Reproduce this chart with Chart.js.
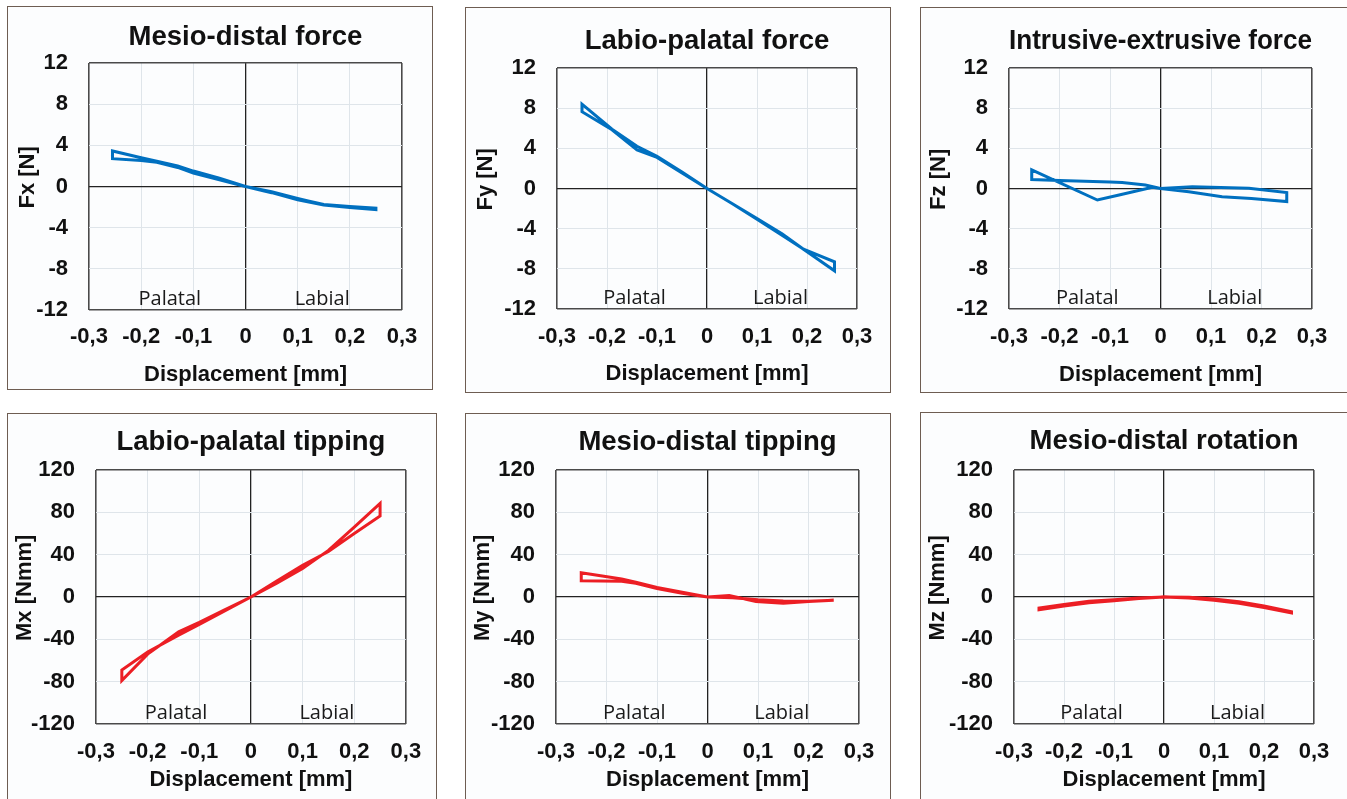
<!DOCTYPE html>
<html>
<head>
<meta charset="utf-8">
<title>Forces and moments vs displacement</title>
<script src="https://cdn.jsdelivr.net/npm/chart.js@4.4.1/dist/chart.umd.min.js"></script>
<style>
  html, body { margin: 0; padding: 0; background: #fff; }
  #page { position: relative; width: 1347px; height: 799px; overflow: hidden; background: #fff; }
  .panel { position: absolute; box-sizing: border-box; border: 1px solid #6e5d52; background: #fcfdfe; }
  .panel canvas { display: block; }
</style>
</head>
<body>
<div id="page"></div>
<script>
// loops: 0 -> labial -> 0 -> palatal -> 0
const fxDisp  = [0, 0.05, 0.1, 0.15, 0.2, 0.25, 0.25, 0.2, 0.15, 0.12, 0.1, 0.05, 0, -0.05, -0.1, -0.13, -0.17, -0.2, -0.255, -0.255, -0.2, -0.17, -0.13, -0.1, -0.05, 0];
const fxForce = [0, -0.6, -1.3, -1.8, -2.05, -2.25, -2.1, -1.95, -1.75, -1.4, -1.15, -0.5, 0, 0.65, 1.3, 1.85, 2.35, 2.52, 2.7, 3.45, 2.8, 2.45, 2.0, 1.5, 0.8, 0];

const fyDisp  = [0, 0.05, 0.1, 0.15, 0.193, 0.255, 0.255, 0.193, 0.15, 0.1, 0.05, 0, -0.05, -0.1, -0.14, -0.19, -0.25, -0.25, -0.19, -0.14, -0.1, -0.05, 0];
const fyForce = [0, -1.5, -3.0, -4.5, -6.05, -8.2, -7.3, -6.05, -4.65, -3.05, -1.5, 0, 1.55, 3.1, 3.85, 5.85, 7.65, 8.4, 5.9, 4.2, 3.2, 1.65, 0];

const fzDisp  = [0, 0.056, 0.122, 0.18, 0.25, 0.25, 0.175, 0.063, 0, -0.016, -0.082, -0.125, -0.255, -0.255, -0.2, -0.1, -0.076, -0.03, 0];
const fzForce = [0, -0.32, -0.81, -1.0, -1.3, -0.4, 0.02, 0.18, 0, 0.12, -0.65, -1.15, 1.85, 0.9, 0.8, 0.65, 0.6, 0.35, 0];

const mxDisp   = [0, 0.05, 0.1, 0.15, 0.2, 0.25, 0.25, 0.2, 0.15, 0.1, 0.05, 0, -0.05, -0.1, -0.14, -0.2, -0.25, -0.25, -0.2, -0.14, -0.1, -0.05, 0];
const mxMoment = [0, 13, 27, 44, 66, 88.5, 76.5, 60, 43, 30, 15, 0, -12, -24, -33, -54, -79, -69, -52, -36, -26, -13, 0];

const myDisp   = [0, 0.043, 0.096, 0.15, 0.2, 0.25, 0.25, 0.2, 0.15, 0.1, 0.05, 0, -0.05, -0.1, -0.142, -0.17, -0.25, -0.25, -0.17, -0.142, -0.1, -0.05, 0];
const myMoment = [0, 1.5, -4.2, -5.8, -4.2, -3.0, -3.0, -4.0, -3.8, -2.6, -0.8, 0, 3.5, 8, 13, 14.8, 15.4, 23, 17, 14, 9, 4.5, 0];

const mzDisp   = [0, 0.05, 0.1, 0.15, 0.2, 0.255, 0.255, 0.2, 0.15, 0.1, 0.05, 0, -0.05, -0.1, -0.15, -0.2, -0.25, -0.25, -0.2, -0.15, -0.1, -0.05, 0];
const mzMoment = [0, -1, -3, -6, -10, -15, -14, -8.5, -4.5, -2, -0.3, 0, -1.5, -3.5, -5.5, -8.5, -12, -10.5, -7, -4, -2.5, -1, 0];

const dispTicks   = [-0.3, -0.2, -0.1, 0, 0.1, 0.2, 0.3];
const forceTicks  = [-12, -8, -4, 0, 4, 8, 12];
const momentTicks = [-120, -80, -40, 0, 40, 80, 120];
const sideLabels  = ['Palatal', 'Labial'];

const BLUE = 'rgb(0,112,192)';
const RED = 'rgb(236,30,36)';
const FONT = '"Liberation Sans", Arial, sans-serif';
const AXIS_SIZE = 22;
const TITLE_SIZE = 27.5;

// box = panel frame, plot = wanted chart area (page pixels)
const panels = [
    { title: 'Mesio-distal force', yLabel: 'Fx [N]', xs: fxDisp, ys: fxForce, yTicks: forceTicks, color: BLUE,
      box: [7, 6, 426, 384], plot: [89, 63, 402, 310], titleY: 37.5, tickY: 337, xTitleY: 375, yTitleX: 28 },
    { title: 'Labio-palatal force', yLabel: 'Fy [N]', xs: fyDisp, ys: fyForce, yTicks: forceTicks, color: BLUE,
      box: [465, 7, 426, 386], plot: [557, 68, 857, 309], titleY: 41, tickY: 337, xTitleY: 374, yTitleX: 486 },
    { title: 'Intrusive-extrusive force', yLabel: 'Fz [N]', xs: fzDisp, ys: fzForce, yTicks: forceTicks, color: BLUE,
      box: [920, 7, 430, 386], plot: [1009, 68, 1312, 309], titleY: 41, tickY: 337, xTitleY: 375, yTitleX: 939 },
    { title: 'Labio-palatal tipping', yLabel: 'Mx [Nmm]', xs: mxDisp, ys: mxMoment, yTicks: momentTicks, color: RED,
      box: [7, 413, 430, 400], plot: [96, 470, 406, 724], titleY: 442, tickY: 752, xTitleY: 780, yTitleX: 25 },
    { title: 'Mesio-distal tipping', yLabel: 'My [Nmm]', xs: myDisp, ys: myMoment, yTicks: momentTicks, color: RED,
      box: [465, 413, 426, 400], plot: [556, 470, 859, 724], titleY: 442, tickY: 752, xTitleY: 780, yTitleX: 483 },
    { title: 'Mesio-distal rotation', yLabel: 'Mz [Nmm]', xs: mzDisp, ys: mzMoment, yTicks: momentTicks, color: RED,
      box: [920, 412, 430, 400], plot: [1014, 470, 1314, 724], titleY: 441, tickY: 752, xTitleY: 780, yTitleX: 938 }
];

function gridColor(v, lo, hi) {
    if (Math.abs(v) < 1e-9) return '#222';
    if (Math.abs(v - lo) < 1e-9 || Math.abs(v - hi) < 1e-9) return '#4a4a4a';
    return '#dfe5ea';
}

function gridWidth(v, lo, hi) {
    if (Math.abs(v) < 1e-9) return 1.3;
    if (Math.abs(v - lo) < 1e-9 || Math.abs(v - hi) < 1e-9) return 1.6;
    return 1;
}

const sideLabelPlugin = {
    id: 'sideLabels',
    afterDatasetsDraw(chart) {
        const { ctx, chartArea, scales } = chart;
        ctx.save();
        ctx.font = '20px "Open Sans", sans-serif';
        ctx.fillStyle = '#1a1a1a';
        ctx.textAlign = 'center';
        ctx.textBaseline = 'middle';
        ctx.fillText(sideLabels[0], scales.x.getPixelForValue(-0.145), chartArea.bottom - 11);
        ctx.fillText(sideLabels[1], scales.x.getPixelForValue(0.147), chartArea.bottom - 11);
        ctx.restore();
    }
};

const page = document.getElementById('page');
const axisHalf = AXIS_SIZE * 1.2 / 2;
const titleHalf = TITLE_SIZE * 1.2 / 2;

panels.forEach(p => {
    const [bx, by, bw, bh] = p.box;
    const [pl, pt, pr, pb] = p.plot;
    const cx = bx + 1, cy = by + 1;
    const cw = bw - 2, ch = bh - 2;

    const div = document.createElement('div');
    div.className = 'panel';
    div.style.left = bx + 'px';
    div.style.top = by + 'px';
    div.style.width = bw + 'px';
    div.style.height = bh + 'px';
    const canvas = document.createElement('canvas');
    canvas.width = cw;
    canvas.height = ch;
    div.appendChild(canvas);
    page.appendChild(div);

    const yMin = p.yTicks[0], yMax = p.yTicks[p.yTicks.length - 1];
    const yAxisW = pl - cx;
    const xAxisH = p.xTitleY + axisHalf - pb;

    new Chart(canvas.getContext('2d'), {
        type: 'scatter',
        data: {
            datasets: [{
                data: p.xs.map((x, i) => ({ x: x, y: p.ys[i] })),
                showLine: true,
                borderColor: p.color,
                borderWidth: 3,
                pointRadius: 0,
                tension: 0
            }]
        },
        options: {
            responsive: false,
            animation: false,
            events: [],
            layout: {
                padding: { left: 0, top: 0, right: cw - (pr - cx), bottom: ch - (pb - cy) - xAxisH }
            },
            plugins: {
                legend: { display: false },
                tooltip: { enabled: false },
                title: {
                    display: true,
                    text: p.title,
                    fullSize: false,
                    color: '#111',
                    font: { family: FONT, size: TITLE_SIZE, weight: 'bold', lineHeight: 1.2 },
                    padding: { top: p.titleY - cy - titleHalf, bottom: pt - p.titleY - titleHalf }
                }
            },
            scales: {
                x: {
                    type: 'linear',
                    min: dispTicks[0],
                    max: dispTicks[dispTicks.length - 1],
                    afterBuildTicks: s => { s.ticks = dispTicks.map(v => ({ value: v })); },
                    afterFit: s => { s.height = xAxisH; },
                    border: { display: false },
                    grid: {
                        drawTicks: false,
                        color: c => gridColor(c.tick.value, -0.3, 0.3),
                        lineWidth: c => gridWidth(c.tick.value, -0.3, 0.3)
                    },
                    ticks: {
                        padding: (p.tickY - pb) - axisHalf,
                        maxRotation: 0,
                        autoSkip: false,
                        color: '#111',
                        font: { family: FONT, size: AXIS_SIZE, weight: 'bold', lineHeight: 1.2 },
                        callback: v => v === 0 ? '0' : String(v).replace('.', ',')
                    },
                    title: {
                        display: true,
                        text: 'Displacement [mm]',
                        color: '#111',
                        padding: { top: 0, bottom: 0 },
                        font: { family: FONT, size: AXIS_SIZE, weight: 'bold', lineHeight: 1.2 }
                    }
                },
                y: {
                    type: 'linear',
                    min: yMin,
                    max: yMax,
                    afterBuildTicks: s => { s.ticks = p.yTicks.map(v => ({ value: v })); },
                    afterFit: s => { s.width = yAxisW; },
                    border: { display: false },
                    grid: {
                        drawTicks: false,
                        color: c => gridColor(c.tick.value, yMin, yMax),
                        lineWidth: c => gridWidth(c.tick.value, yMin, yMax)
                    },
                    ticks: {
                        padding: 21,
                        autoSkip: false,
                        color: '#111',
                        font: { family: FONT, size: AXIS_SIZE, weight: 'bold', lineHeight: 1.2 }
                    },
                    title: {
                        display: true,
                        // leading spaces lift the label a little above the plot centre, as in the original
                        text: '   ' + p.yLabel,
                        color: '#111',
                        padding: { top: p.yTitleX - cx - axisHalf, bottom: 0 },
                        font: { family: FONT, size: AXIS_SIZE, weight: 'bold', lineHeight: 1.2 }
                    }
                }
            }
        },
        plugins: [sideLabelPlugin]
    });
});
</script>
</body>
</html>
